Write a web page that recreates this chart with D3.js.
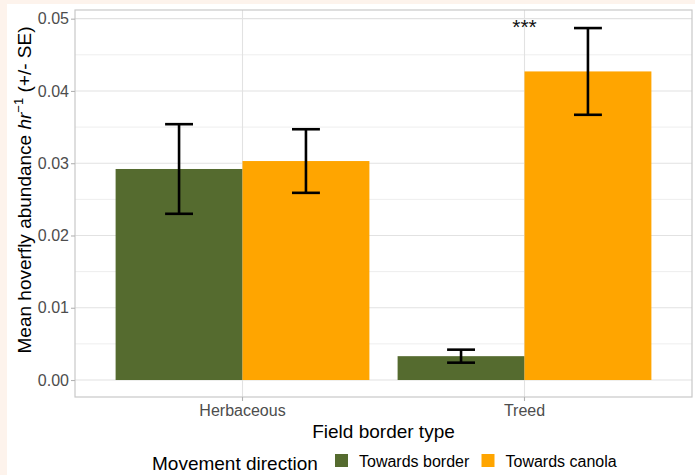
<!DOCTYPE html>
<html>
<head>
<meta charset="utf-8">
<script src="https://cdn.jsdelivr.net/npm/d3@7"></script>
<style>
  html, body { margin: 0; padding: 0; background: #fdf3ec; }
  svg { display: block; }
  text { font-family: "Liberation Sans", Arial, sans-serif; }
</style>
</head>
<body>
<script>
// ---- Data ----
const categories = ["Herbaceous", "Treed"];
const seriesNames = ["Towards border", "Towards canola"];
const seriesColors = ["#556B2F", "#FFA500"];
const towardsBorder = [0.0292, 0.0033];
const towardsBorderSE = [0.0062, 0.0009];
const towardsCanola = [0.0303, 0.0427];
const towardsCanolaSE = [0.0044, 0.0060];
const yTicks = [0.00, 0.01, 0.02, 0.03, 0.04, 0.05];
const yMinor = [0.005, 0.015, 0.025, 0.035, 0.045];
const significance = [{ category: "Treed", label: "***", value: 0.0505 }];

const seriesValues = [towardsBorder, towardsCanola];
const seriesSE = [towardsBorderSE, towardsCanolaSE];
const rows = [];
categories.forEach((c, i) => {
  seriesNames.forEach((s, j) => {
    rows.push({ category: c, series: s, value: seriesValues[j][i], se: seriesSE[j][i], color: seriesColors[j] });
  });
});

// ---- Layout ----
const W = 695, H = 475;
const panel = { left: 75, right: 692, top: 10, bottom: 397 };

const svg = d3.select("body").append("svg").attr("width", W).attr("height", H);
svg.append("rect").attr("x", 7).attr("y", 4).attr("width", W - 7).attr("height", H - 4).attr("fill", "#ffffff");

const y = d3.scaleLinear().domain([-0.00235, 0.0512]).range([panel.bottom, panel.top]);
const x = d3.scaleBand().domain(categories).range([panel.left, panel.right]).paddingInner(0.1).paddingOuter(0.144);
const xs = d3.scaleBand().domain(seriesNames).range([0, x.bandwidth()]);

const g = svg.append("g");

// minor grid
g.selectAll("line.minor").data(yMinor).join("line")
  .attr("x1", panel.left).attr("x2", panel.right)
  .attr("y1", d => y(d)).attr("y2", d => y(d))
  .attr("stroke", "#eeeeee").attr("stroke-width", 1);
// major grid
g.selectAll("line.major").data(yTicks).join("line")
  .attr("x1", panel.left).attr("x2", panel.right)
  .attr("y1", d => y(d)).attr("y2", d => y(d))
  .attr("stroke", "#e2e2e2").attr("stroke-width", 1.1);
g.selectAll("line.vmajor").data(categories).join("line")
  .attr("x1", d => x(d) + x.bandwidth() / 2).attr("x2", d => x(d) + x.bandwidth() / 2)
  .attr("y1", panel.top).attr("y2", panel.bottom)
  .attr("stroke", "#e2e2e2").attr("stroke-width", 1.1);

// bars
g.selectAll("rect.bar").data(rows).join("rect")
  .attr("x", d => x(d.category) + xs(d.series))
  .attr("width", xs.bandwidth())
  .attr("y", d => y(d.value))
  .attr("height", d => y(0) - y(d.value))
  .attr("fill", d => d.color);

// error bars
const capHalf = xs.bandwidth() * 0.11;
const eb = g.selectAll("g.eb").data(rows).join("g")
  .attr("transform", d => `translate(${x(d.category) + xs(d.series) + xs.bandwidth() / 2},0)`);
eb.append("line").attr("x1", 0).attr("x2", 0)
  .attr("y1", d => y(d.value + d.se)).attr("y2", d => y(d.value - d.se))
  .attr("stroke", "#000").attr("stroke-width", 2.6);
eb.append("line").attr("x1", -capHalf).attr("x2", capHalf)
  .attr("y1", d => y(d.value + d.se)).attr("y2", d => y(d.value + d.se))
  .attr("stroke", "#000").attr("stroke-width", 2.6);
eb.append("line").attr("x1", -capHalf).attr("x2", capHalf)
  .attr("y1", d => y(d.value - d.se)).attr("y2", d => y(d.value - d.se))
  .attr("stroke", "#000").attr("stroke-width", 2.6);

// significance
g.selectAll("text.sig").data(significance).join("text")
  .attr("x", d => x(d.category) + x.bandwidth() / 2)
  .attr("y", d => y(d.value) + 19)
  .attr("text-anchor", "middle")
  .attr("font-size", 21)
  .attr("fill", "#111")
  .text(d => d.label);

// panel border
svg.append("rect")
  .attr("x", panel.left).attr("y", panel.top)
  .attr("width", panel.right - panel.left).attr("height", panel.bottom - panel.top)
  .attr("fill", "none").attr("stroke", "#c9c9c9").attr("stroke-width", 1.2);

// y axis
const yAxis = d3.axisLeft(y).tickValues(yTicks).tickFormat(d3.format(".2f")).tickSize(4).tickPadding(2);
const ya = svg.append("g").attr("transform", `translate(${panel.left},0)`).call(yAxis);
ya.select(".domain").remove();
ya.selectAll(".tick line").attr("stroke", "#b3b3b3").attr("stroke-width", 1.1);
ya.selectAll(".tick text").attr("font-size", 16).attr("fill", "#4d4d4d")
  .attr("font-family", "Liberation Sans, Arial, sans-serif");

// x axis
const xAxis = d3.axisBottom(x).tickSize(4).tickPadding(4);
const xa = svg.append("g").attr("transform", `translate(0,${panel.bottom})`).call(xAxis);
xa.select(".domain").remove();
xa.selectAll(".tick line").attr("stroke", "#b3b3b3").attr("stroke-width", 1.1);
xa.selectAll(".tick text").attr("font-size", 16).attr("fill", "#4d4d4d")
  .attr("font-family", "Liberation Sans, Arial, sans-serif");

// axis titles
svg.append("text").attr("x", (panel.left + panel.right) / 2).attr("y", 438)
  .attr("text-anchor", "middle").attr("font-size", 19).attr("fill", "#000")
  .text("Field border type");

const yt = svg.append("text")
  .attr("transform", "translate(31,190) rotate(-90)")
  .attr("text-anchor", "middle").attr("font-size", 19).attr("fill", "#000");
yt.append("tspan").text("Mean hoverfly abundance ");
yt.append("tspan").attr("font-style", "italic").text("hr");
yt.append("tspan").attr("font-size", 13).attr("dy", -8).text("\u22121");
yt.append("tspan").attr("dy", 8).text(" (+/- SE)");

// legend
const leg = svg.append("g");
leg.append("text").attr("x", 152).attr("y", 470).attr("font-size", 19).attr("fill", "#000")
  .text("Movement direction");
const keyX = [335, 481.5];
const items = leg.selectAll("g.item").data(seriesNames).join("g")
  .attr("transform", (d, i) => `translate(${keyX[i]},454)`);
items.append("rect").attr("width", 13).attr("height", 13).attr("fill", (d, i) => seriesColors[i]);
items.append("text").attr("x", 24).attr("y", 13).attr("font-size", 16).attr("fill", "#000").text(d => d);
</script>
</body>
</html>
